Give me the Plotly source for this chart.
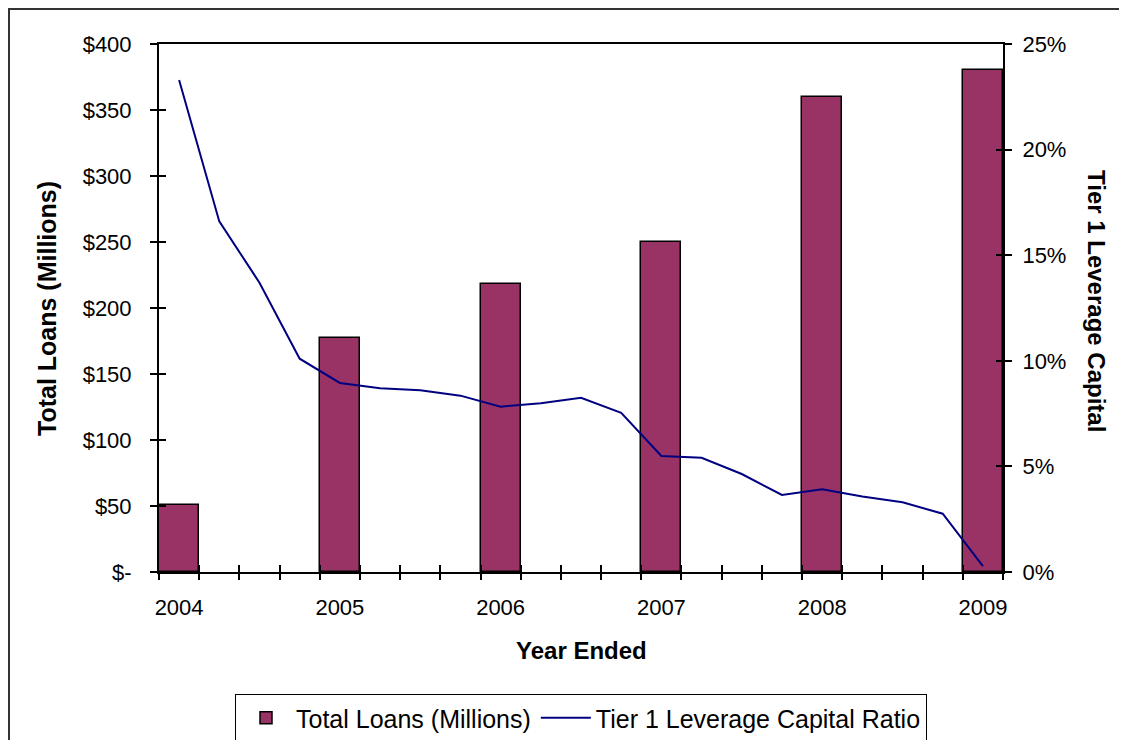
import plotly.graph_objects as go

years = ["2004", "2005", "2006", "2007", "2008", "2009"]
total_loans = [51, 177, 218, 250, 360, 380]
tier1_ratio = [23.3, 16.6, 13.7, 10.1, 8.95, 8.7, 8.6, 8.35, 7.83, 7.99, 8.25,
               7.54, 5.49, 5.41, 4.64, 3.65, 3.92, 3.57, 3.30, 2.76, 0.28]
quarters_per_year = 4
y_left_ticks = [0, 50, 100, 150, 200, 250, 300, 350, 400]
y_left_text = ["$-", "$50", "$100", "$150", "$200", "$250", "$300", "$350", "$400"]
y_right_ticks = [0, 5, 10, 15, 20, 25]
y_right_text = ["0%", "5%", "10%", "15%", "20%", "25%"]

FONT = "Liberation Sans, Arial, sans-serif"
BAR_COLOR = "#993366"
LINE_COLOR = "#000080"

n_q = len(tier1_ratio)
q_pos = list(range(n_q))
bar_pos = [i * quarters_per_year for i in range(len(years))]
boundaries = [i - 0.5 for i in range(n_q + 1)]
xr = [-0.5, n_q - 0.5]

fig = go.Figure()
fig.add_trace(go.Bar(
    x=bar_pos, y=total_loans, width=1.0, name="Total Loans (Millions)",
    marker=dict(color=BAR_COLOR, line=dict(color="black", width=1.5)),
    yaxis="y"))
fig.add_trace(go.Scatter(
    x=q_pos, y=tier1_ratio, mode="lines", name="Tier 1 Leverage Capital Ratio",
    line=dict(color=LINE_COLOR, width=2), yaxis="y2"))

OFF = 8  # page body margin
W, H = 1127 - OFF, 740 - OFF
L, R, T, B = 159, 1003, 44, 572  # plot area in page pixels
pw, ph = R - L, B - T

def px(x):
    return (x - L) / pw

def py(y):
    return (B - y) / ph

tick_common = dict(showgrid=False, zeroline=False, tickwidth=1.5, tickcolor="black")

fig.update_layout(
    width=W, height=H, autosize=False,
    margin=dict(l=L - OFF, r=W - (R - OFF), t=T - OFF, b=H - (B - OFF), pad=0,
                autoexpand=False),
    paper_bgcolor="white", plot_bgcolor="white",
    font=dict(family=FONT, size=22, color="black"),
    bargap=0,
    showlegend=True,
    legend=dict(orientation="h", x=0.5, xanchor="center", y=py(694), yanchor="top",
                bordercolor="black", borderwidth=1, font=dict(size=25),
                itemwidth=50, traceorder="normal", tracegroupgap=0),
    xaxis=dict(range=xr, tickvals=bar_pos, ticktext=years, ticks="outside",
               ticklen=15, tickcolor="rgba(0,0,0,0)", showline=True, linecolor="black",
               linewidth=2, mirror=True, showgrid=False, zeroline=False),
    xaxis2=dict(range=xr, overlaying="x", anchor="y", side="bottom", tickvals=boundaries,
                ticks="outside", ticklen=7, showticklabels=False, showline=False, **tick_common),
    xaxis3=dict(range=xr, overlaying="x", anchor="y", side="bottom", tickvals=boundaries,
                ticks="inside", ticklen=7, showticklabels=False, showline=False, **tick_common),
    yaxis=dict(range=[0, 400], tickvals=y_left_ticks, ticktext=y_left_text,
               ticks="outside", ticklen=7, ticklabelstandoff=14,
               showline=True, linecolor="black", linewidth=2, mirror=True, **tick_common),
    yaxis3=dict(range=[0, 400], overlaying="y", anchor="x", side="left", tickvals=y_left_ticks,
                ticks="inside", ticklen=7, showticklabels=False, showline=False, **tick_common),
    yaxis2=dict(range=[0, 25], overlaying="y", side="right", anchor="x", tickvals=y_right_ticks,
                ticktext=y_right_text, ticks="outside", ticklen=7, ticklabelstandoff=6,
                showline=True, linecolor="black", linewidth=2, **tick_common),
    yaxis4=dict(range=[0, 25], overlaying="y", side="right", anchor="x", tickvals=y_right_ticks,
                ticks="inside", ticklen=7, showticklabels=False, showline=False, **tick_common),
    annotations=[
        dict(text="<b>Tier 1 Leverage Capital</b>", xref="paper", yref="paper",
             x=px(1097), y=py(301), textangle=90, showarrow=False,
             font=dict(size=24), xanchor="center", yanchor="middle"),
        dict(text="<b>Total Loans (Millions)</b>", xref="paper", yref="paper",
             x=px(47), y=py(308), textangle=-90, showarrow=False,
             font=dict(size=25), xanchor="center", yanchor="middle"),
        dict(text="<b>Year Ended</b>", xref="paper", yref="paper",
             x=px(581), y=py(650), showarrow=False,
             font=dict(size=24), xanchor="center", yanchor="middle"),
    ],
    shapes=[dict(type="rect", xref="paper", yref="paper", x0=px(OFF + 1), y0=py(760),
                 x1=px(1140), y1=py(OFF + 1), line=dict(color="#333333", width=2),
                 fillcolor="rgba(0,0,0,0)", layer="below")],
)

# invisible traces so the overlay tick axes are rendered
for xa, ya in [("x2", "y"), ("x3", "y"), ("x", "y3"), ("x", "y4")]:
    fig.add_trace(go.Scatter(x=[None], y=[None], xaxis=xa, yaxis=ya, showlegend=False,
                             hoverinfo="skip"))

fig.write_html("out.html")
